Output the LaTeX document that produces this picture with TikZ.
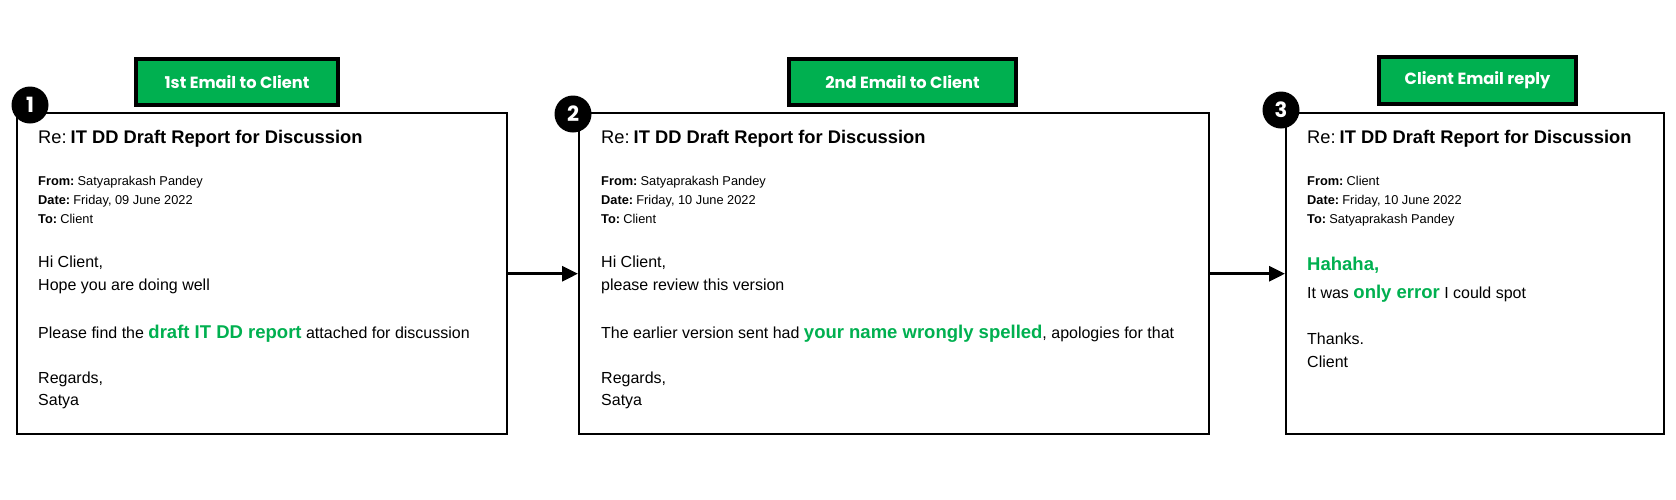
\documentclass[tikz,border=0pt]{standalone}
\usepackage{fontspec}
\setmainfont{Liberation Sans}
\newfontfamily\labelfont{Poppins}
\usetikzlibrary{arrows.meta}
\definecolor{officegreen}{RGB}{0,176,80}
\newcommand\hl[1]{{\color{officegreen}\bfseries\fontsize{18.5}{19}\selectfont #1}}
\begin{document}
\begin{tikzpicture}[x=1pt,y=-1pt,
  mailbox/.style={draw=black, line width=2.4pt, fill=white, anchor=north west, inner sep=0pt, minimum height=321pt},
  tag/.style={draw=black, line width=3.5pt, fill=officegreen, text=white, inner sep=0pt, minimum height=46pt,
    font=\labelfont\bfseries\fontsize{16.2}{18}\selectfont},
  num/.style={circle, fill=black, text=white, inner sep=0pt, minimum size=37pt,
    font=\labelfont\bfseries\fontsize{21}{21}\selectfont},
  ttl/.style={anchor=base west, inner sep=0pt, font=\fontsize{18.3}{22}\selectfont},
  hdr/.style={anchor=base west, inner sep=0pt, font=\fontsize{12.8}{15}\selectfont},
  body/.style={anchor=base west, inner sep=0pt, font=\fontsize{16}{19}\selectfont},
  flow/.style={line width=3pt, -{Triangle[length=16pt,width=15pt]}}
]
\useasboundingbox[fill=white] (0,0) rectangle (1676,499);

% boxes
\node[mailbox, minimum width=490pt] (box1) at (16,112) {};
\node[mailbox, minimum width=630pt] (box2) at (578,112) {};
\node[mailbox, minimum width=378pt] (box3) at (1285,112) {};

% tags
\node[tag, minimum width=202pt] (tag1) at (237,82) {1st Email to Client};
\node[tag, minimum width=227pt] (tag2) at (902.5,82) {2nd Email to Client};
\node[tag, minimum width=197pt, minimum height=47pt] (tag3) at (1477.5,80.5) {Client Email reply};

% numbers
\node[num] (n1) at (30,105) {1};
\node[num] (n2) at (573,114) {2};
\node[num] (n3) at (1281,110) {3};

% arrows
\draw[flow] (box1.east) -- (box2.west);
\draw[flow] (box2.east) -- (box3.west);

% email 1
\node[ttl] (a0) at (38,143) {Re:\hspace{0.22em}\textbf{IT DD Draft Report for Discussion}};
\node[hdr] (a1) at (38,185) {\textbf{From:}\hspace{0.25em}Satyaprakash Pandey};
\node[hdr] (a2) at (38,204) {\textbf{Date:}\hspace{0.25em}Friday, 09 June 2022};
\node[hdr] (a3) at (38,223) {\textbf{To:}\hspace{0.25em}Client};
\node[body] (a4) at (38,267) {Hi Client,};
\node[body] (a5) at (38,290) {Hope you are doing well};
\node[body] (a6) at (38,338) {Please find the \hl{draft IT DD report} attached for discussion};
\node[body] (a7) at (38,383) {Regards,};
\node[body] (a8) at (38,405) {Satya};

% email 2
\node[ttl] (b0) at (601,143) {Re:\hspace{0.22em}\textbf{IT DD Draft Report for Discussion}};
\node[hdr] (b1) at (601,185) {\textbf{From:}\hspace{0.25em}Satyaprakash Pandey};
\node[hdr] (b2) at (601,204) {\textbf{Date:}\hspace{0.25em}Friday, 10 June 2022};
\node[hdr] (b3) at (601,223) {\textbf{To:}\hspace{0.25em}Client};
\node[body] (b4) at (601,267) {Hi Client,};
\node[body] (b5) at (601,290) {please review this version};
\node[body] (b6) at (601,338) {The earlier version sent had \hl{your name wrongly spelled}, apologies for that};
\node[body] (b7) at (601,383) {Regards,};
\node[body] (b8) at (601,405) {Satya};

% email 3
\node[ttl] (c0) at (1307,143) {Re:\hspace{0.22em}\textbf{IT DD Draft Report for Discussion}};
\node[hdr] (c1) at (1307,185) {\textbf{From:}\hspace{0.25em}Client};
\node[hdr] (c2) at (1307,204) {\textbf{Date:}\hspace{0.25em}Friday, 10 June 2022};
\node[hdr] (c3) at (1307,223) {\textbf{To:}\hspace{0.25em}Satyaprakash Pandey};
\node[body] (c4) at (1307,270) {\hl{Hahaha,}};
\node[body] (c5) at (1307,298) {It was \hl{only error} I could spot};
\node[body] (c6) at (1307,344) {Thanks.};
\node[body] (c7) at (1307,367) {Client};
\end{tikzpicture}
\end{document}
